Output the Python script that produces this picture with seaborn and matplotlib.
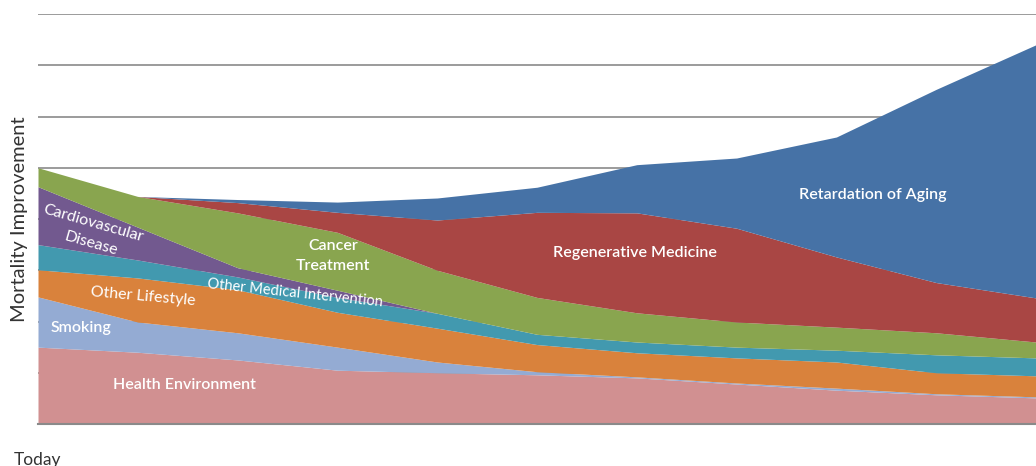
import numpy as np
import matplotlib
matplotlib.use("Agg")
import matplotlib.pyplot as plt
import pandas as pd
import seaborn as sns

# time steps (only the first one is labelled)
steps = list(range(11))
tick_labels = ["Today"]

# contribution of each driver to mortality improvement (stacked, bottom to top)
health_env = [1.50, 1.40, 1.25, 1.05, 1.00, 0.96, 0.90, 0.78, 0.66, 0.57, 0.51]
smoking = [0.98, 0.59, 0.53, 0.45, 0.21, 0.06, 0.02, 0.02, 0.04, 0.02, 0.02]
other_lifestyle = [0.53, 0.86, 0.84, 0.68, 0.66, 0.53, 0.47, 0.49, 0.51, 0.41, 0.41]
other_medical = [0.49, 0.35, 0.25, 0.29, 0.29, 0.20, 0.21, 0.21, 0.23, 0.35, 0.35]
cardiovascular = [1.13, 0.64, 0.18, 0.14, 0.00, 0.00, 0.00, 0.00, 0.00, 0.00, 0.00]
cancer = [0.37, 0.60, 1.07, 1.13, 0.84, 0.72, 0.57, 0.49, 0.45, 0.43, 0.31]
regenerative = [0.00, 0.00, 0.20, 0.39, 0.98, 1.66, 1.95, 1.83, 1.37, 0.98, 0.86]
aging = [0.00, 0.00, 0.06, 0.20, 0.43, 0.49, 0.94, 1.37, 2.34, 3.77, 4.94]

layers = ["Health Environment", "Smoking", "Other Lifestyle", "Other Medical Intervention",
          "Cardiovascular Disease", "Cancer Treatment", "Regenerative Medicine",
          "Retardation of Aging"]
colors = ["#D19091", "#94ABD3", "#D9823C", "#4299AF", "#72598F", "#89A54F", "#A94644", "#4672A6"]

df = pd.DataFrame({"step": steps, layers[0]: health_env, layers[1]: smoking,
                   layers[2]: other_lifestyle, layers[3]: other_medical,
                   layers[4]: cardiovascular, layers[5]: cancer,
                   layers[6]: regenerative, layers[7]: aging})

sns.set_theme(style="whitegrid", rc={"axes.spines.right": False, "axes.spines.top": False,
                                     "axes.spines.left": False})
plt.rcParams["font.family"] = ["Lato", "DejaVu Sans"]

fig = plt.figure(figsize=(10.36, 4.66), dpi=100)
ax = fig.add_axes([38 / 1036, 42 / 466, 1 - 38 / 1036, 410 / 466])

ax.stackplot(df["step"], [df[c] for c in layers], colors=colors, linewidth=0)

ax.set_xlim(0, 10)
ax.set_ylim(0, 8)
ax.set_yticks(np.arange(0, 9, 1))
ax.set_yticklabels([])
ax.set_xticks([0])
ax.set_xticklabels(tick_labels, fontsize=12.5, color="#333333")
ax.tick_params(axis="x", pad=20, length=0)
ax.tick_params(axis="y", length=0, pad=0)
ax.yaxis.grid(True, color="#8a8a8a", linewidth=1.2)
ax.xaxis.grid(False)
ax.set_axisbelow(True)
ax.spines["bottom"].set_color("#8a8a8a")
ax.spines["bottom"].set_linewidth(1.5)
ax.set_ylabel("Mortality Improvement", fontsize=14.5, color="#333333")
ax.yaxis.set_label_coords(-10 / 998, 0.5)

# inline labels (positions in data coords)
def lab(x, y, s, rot=0, weight="semibold", size=11.5):
    ax.text(x, y, s, color="white", fontsize=size, rotation=rot, weight=weight,
            ha="center", va="center", rotation_mode="anchor")

lab(1.47, 0.76, "Health Environment")
lab(0.43, 1.87, "Smoking")
lab(1.05, 2.48, "Other Lifestyle", rot=-5, weight="normal")
lab(0.55, 3.92, "Cardiovascular", rot=-16, weight="normal")
lab(0.53, 3.51, "Disease", rot=-16, weight="normal")
lab(2.58, 2.55, "Other Medical Intervention", rot=-6, weight="normal", size=10.5)
lab(2.96, 3.47, "Cancer")
lab(2.96, 3.08, "Treatment")
lab(5.98, 3.34, "Regenerative Medicine")
lab(8.36, 4.47, "Retardation of Aging")

fig.savefig("out.png", dpi=100)
